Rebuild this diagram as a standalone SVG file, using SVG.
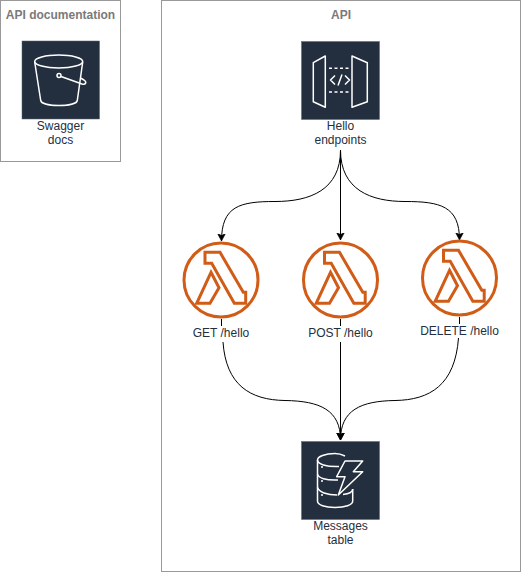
<svg xmlns="http://www.w3.org/2000/svg" width="521" height="572" viewBox="0 0 521 572">
<style>
.frame{fill:#fff;stroke:#999;stroke-width:1}
.title{font:bold 12px "Liberation Sans",Arial,sans-serif;fill:#7a7a7a;text-anchor:middle}
.label{font:12px "Liberation Sans",Arial,sans-serif;fill:#232f3e;text-anchor:middle}
.tile{fill:#232f3e;stroke:#5a6472;stroke-width:.5}
.line{fill:none;stroke:#fff;stroke-width:1.5;stroke-linejoin:round}
.lam{fill:none;stroke:#d05c17;stroke-width:3;stroke-linejoin:miter}
.conn{fill:none;stroke:#000;stroke-width:1}
.head{marker-end:url(#arrow)}
</style>
<defs>
<marker id="arrow" markerUnits="userSpaceOnUse" markerWidth="10" markerHeight="10" refX="7.5" refY="4.5" orient="auto">
<path d="M0 0.5L7.5 4.5L0 8.5L2 4.5Z" fill="#000" stroke="#000" stroke-width=".6"/>
</marker>
<g id="lambda">
<circle r="37" class="lam"/>
<path class="lam" d="M-16 -27.7H-1L22.3 12.3H24.7V23.3H13.3L-9.3 -16.7H-16Z"/>
<path class="lam" d="M-10 -7.7L-2 7.7L-11 23.3H-24.3Z"/>
</g>
</defs>
<g id="frame-docs">
<rect class="frame" x="0.5" y="0.5" width="120" height="161"/>
<text class="title" x="60.5" y="19">API documentation</text>
</g>
<g id="frame-api">
<rect class="frame" x="161.5" y="0.5" width="359" height="571"/>
<text class="title" x="341" y="19">API</text>
</g>
<g id="connectors">
<path class="conn head" d="M340.5 150C340.5 190 310 201.5 275 201.5C240 201.5 221.5 206 221.5 241"/>
<path class="conn head" d="M340.5 150V240"/>
<path class="conn head" d="M340.5 150C340.5 190 371 201.5 405 201.5C440 201.5 459.5 206 459.5 240"/>
<path class="conn" d="M221.5 319V326"/>
<path class="conn" d="M340.5 319V326"/>
<path class="conn" d="M459.5 317V324"/>
<path class="conn head" d="M223 342C226 385 250 400 285 400.5C320 401 340.5 410 340.5 440"/>
<path class="conn head" d="M340.5 342V440"/>
<path class="conn head" d="M458.5 338C455 385 430 400 395 400.5C361 401 340.5 410 340.5 440"/>
</g>
<g id="swagger-docs">
<rect class="tile" x="22" y="41" width="77.5" height="78"/>
<ellipse class="line" cx="58.7" cy="61.5" rx="24" ry="6.5"/>
<path class="line" d="M34.7 62L40.7 100.5C42 107 76 107 77.3 100.5L82.7 62"/>
<circle class="line" cx="59" cy="75.5" r="2"/>
<path class="line" d="M61 76.5L82 84C86 85 87 82 84 80L80.5 78"/>
<text class="label" x="60.5" y="130">Swagger</text>
<text class="label" x="60.5" y="144">docs</text>
</g>
<g id="hello-endpoints">
<rect class="tile" x="301.5" y="41.5" width="78" height="78"/>
<path class="line" d="M313.3 62.7L325.3 56V107.3L313.3 101.7Z"/>
<path class="line" d="M352 56L367.3 62.7V101.7L352 107.3Z"/>
<path class="line" stroke-dasharray="3 2.5" d="M329 68.3H350M329 92H350"/>
<path class="line" stroke-width="2" d="M335 75.5L330.5 80L335 84.5M345 75.5L349.5 80L345 84.5M342 74.5L338 85.5"/>
<text class="label" x="340.5" y="130">Hello</text>
<text class="label" x="340.5" y="144">endpoints</text>
</g>
<g id="get-hello">
<use href="#lambda" x="221" y="280"/>
<text class="label" x="221" y="337">GET /hello</text>
</g>
<g id="post-hello">
<use href="#lambda" x="340.5" y="280"/>
<text class="label" x="340.5" y="337">POST /hello</text>
</g>
<g id="delete-hello">
<use href="#lambda" x="459.5" y="278"/>
<text class="label" x="459.5" y="335">DELETE /hello</text>
</g>
<g id="messages-table">
<rect class="tile" x="301.5" y="441.5" width="78" height="78"/>
<path class="line" d="M345 456C342 454.5 338 453.5 335 453.5C325 453.5 317.5 456.5 317.5 460V501C317.5 505 325 507.5 335 507.5C345 507.5 352.7 505 352.7 501V489"/>
<path class="line" d="M317.5 460C317.5 464 326 467 339 466.5M317.5 474C318 478 326 480.5 338 480M317.5 487.5C319 492 327 495 337 495M343 494.5C348 494 352.7 492 352.7 489"/>
<path class="line" d="M345 461H362.7L353.3 471.7H362.7L338.3 495L345 476.7H336.7Z"/>
<circle cx="322" cy="467" r="1" fill="#fff"/>
<circle cx="322" cy="481" r="1" fill="#fff"/>
<circle cx="322" cy="495" r="1" fill="#fff"/>
<text class="label" x="340.5" y="530">Messages</text>
<text class="label" x="340.5" y="544">table</text>
</g>
</svg>
